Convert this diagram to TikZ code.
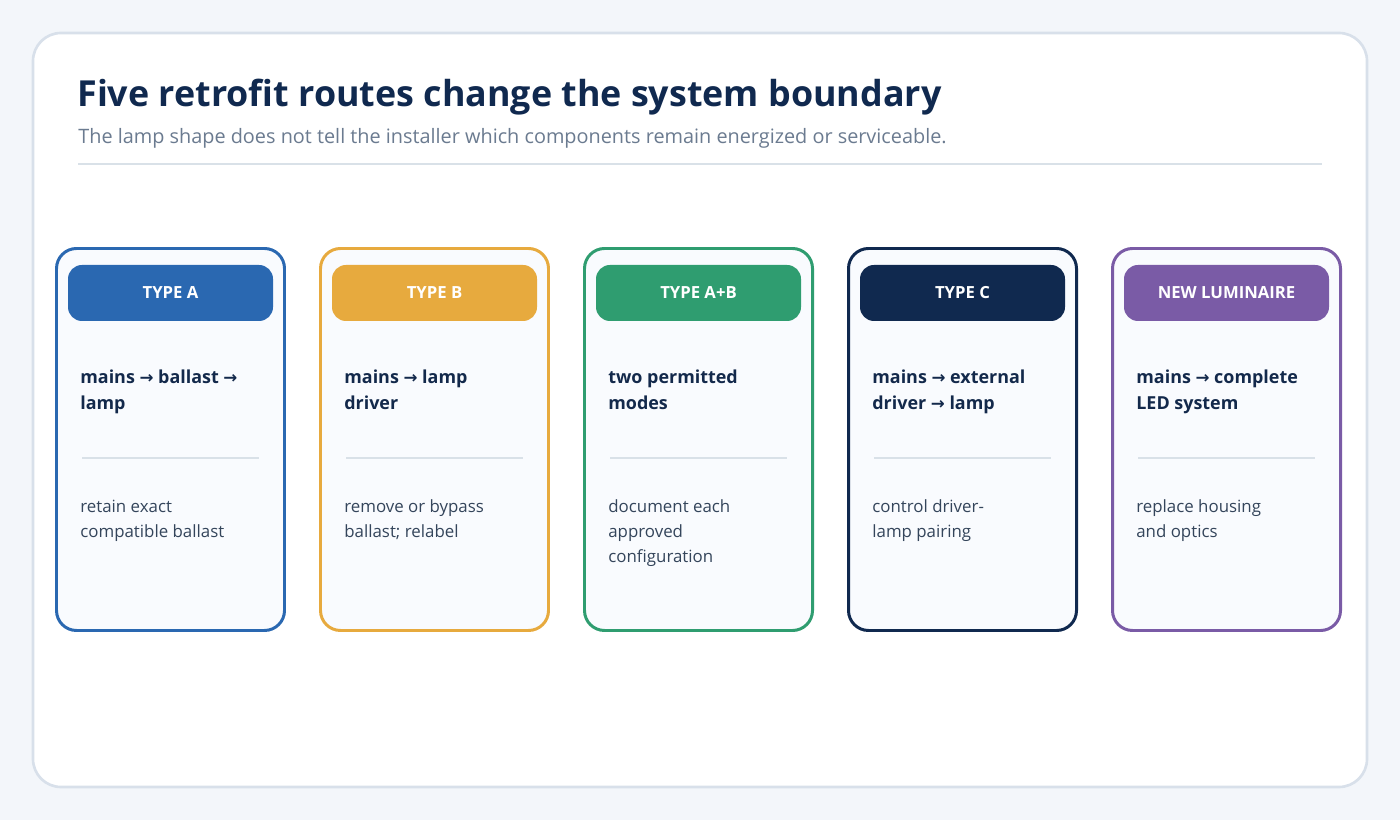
\documentclass[tikz,border=0pt]{standalone}
\usepackage{fontspec}
\setmainfont{Open Sans}
\newfontfamily\arrowfont{DejaVu Sans}
\usetikzlibrary{positioning}

\definecolor{pagebg}{HTML}{F3F6FA}
\definecolor{panelline}{HTML}{D8E0EA}
\definecolor{ruleline}{HTML}{D9E1E8}
\definecolor{titlenavy}{HTML}{10294F}
\definecolor{subgrey}{HTML}{6B7B90}
\definecolor{cardfill}{HTML}{F9FBFE}
\definecolor{bodytext}{HTML}{13294B}
\definecolor{desctext}{HTML}{34455B}
\definecolor{typeA}{HTML}{2A68B1}
\definecolor{typeB}{HTML}{E7AA3E}
\definecolor{typeAB}{HTML}{2F9D70}
\definecolor{typeC}{HTML}{10294F}
\definecolor{newlum}{HTML}{7A5BA6}

\newcommand{\ra}{{\arrowfont\fontsize{9.5}{9.5}\selectfont →}}

\begin{document}
\begin{tikzpicture}[x=0.02cm, y=-0.02cm,
    panel/.style={fill=white, draw=panelline, line width=1.5pt, rounded corners=0.56cm},
    card/.style={fill=cardfill, line width=1.7pt, rounded corners=0.4cm},
    headbox/.style={rounded corners=0.28cm},
    headtext/.style={text=white, font=\bfseries\fontsize{9.5}{11}\selectfont},
    maintext/.style={anchor=north west, align=left, inner sep=0pt, text=bodytext,
        font=\bfseries\fontsize{10.2}{14.7}\selectfont, execute at begin node=\strut},
    desctext/.style={anchor=north west, align=left, inner sep=0pt, text=desctext,
        font=\fontsize{9.6}{14.2}\selectfont, execute at begin node=\strut},
    divider/.style={draw=ruleline, line width=1.7pt}]
    % page and panel
    \fill[pagebg] (0,0) rectangle (1400,820);
    \draw[panel] (33,33) rectangle (1367,787);
    % heading
    \node[anchor=base west, inner sep=0pt, text=titlenavy,
        font=\bfseries\fontsize{20.4}{24}\selectfont] (title) at (77,107) {Five retrofit routes change the system boundary};
    \node[anchor=base west, inner sep=0pt, text=subgrey,
        font=\fontsize{11.3}{13}\selectfont] (subtitle) at (78,144) {The lamp shape does not tell the installer which components remain energized or serviceable.};
    \draw[draw=ruleline, line width=1pt] (78,164) -- (1322,164);
    % cards (text top placed so the first baseline falls on the reference line)
    \foreach \i/\col/\head/\main/\desc in {
        0/typeA/{TYPE A}/{mains \ra{} ballast \ra\\lamp}/{retain exact\\compatible ballast},
        1/typeB/{TYPE B}/{mains \ra{} lamp\\driver}/{remove or bypass\\ballast; relabel},
        2/typeAB/{TYPE A+B}/{two permitted\\modes}/{document each\\approved\\configuration},
        3/typeC/{TYPE C}/{mains \ra{} external\\driver \ra{} lamp}/{control driver-\\lamp pairing},
        4/newlum/{NEW LUMINAIRE}/{mains \ra{} complete\\LED system}/{replace housing\\and optics}} {
        \pgfmathsetmacro{\x}{55+264*\i}
        \draw[card, draw=\col] (\x+1.5,248.5) rectangle (\x+229.5,630.5);
        \fill[headbox, fill=\col] (\x+13,265) rectangle (\x+218,321);
        \node[headtext] (head\i) at (\x+115.5,293) {\head};
        \node[maintext] (main\i) at (\x+25,370) {\main};
        \draw[divider] (\x+27,458) -- (\x+204,458);
        \node[desctext] (desc\i) at (\x+25,499.5) {\desc};
    }
\end{tikzpicture}
\end{document}
